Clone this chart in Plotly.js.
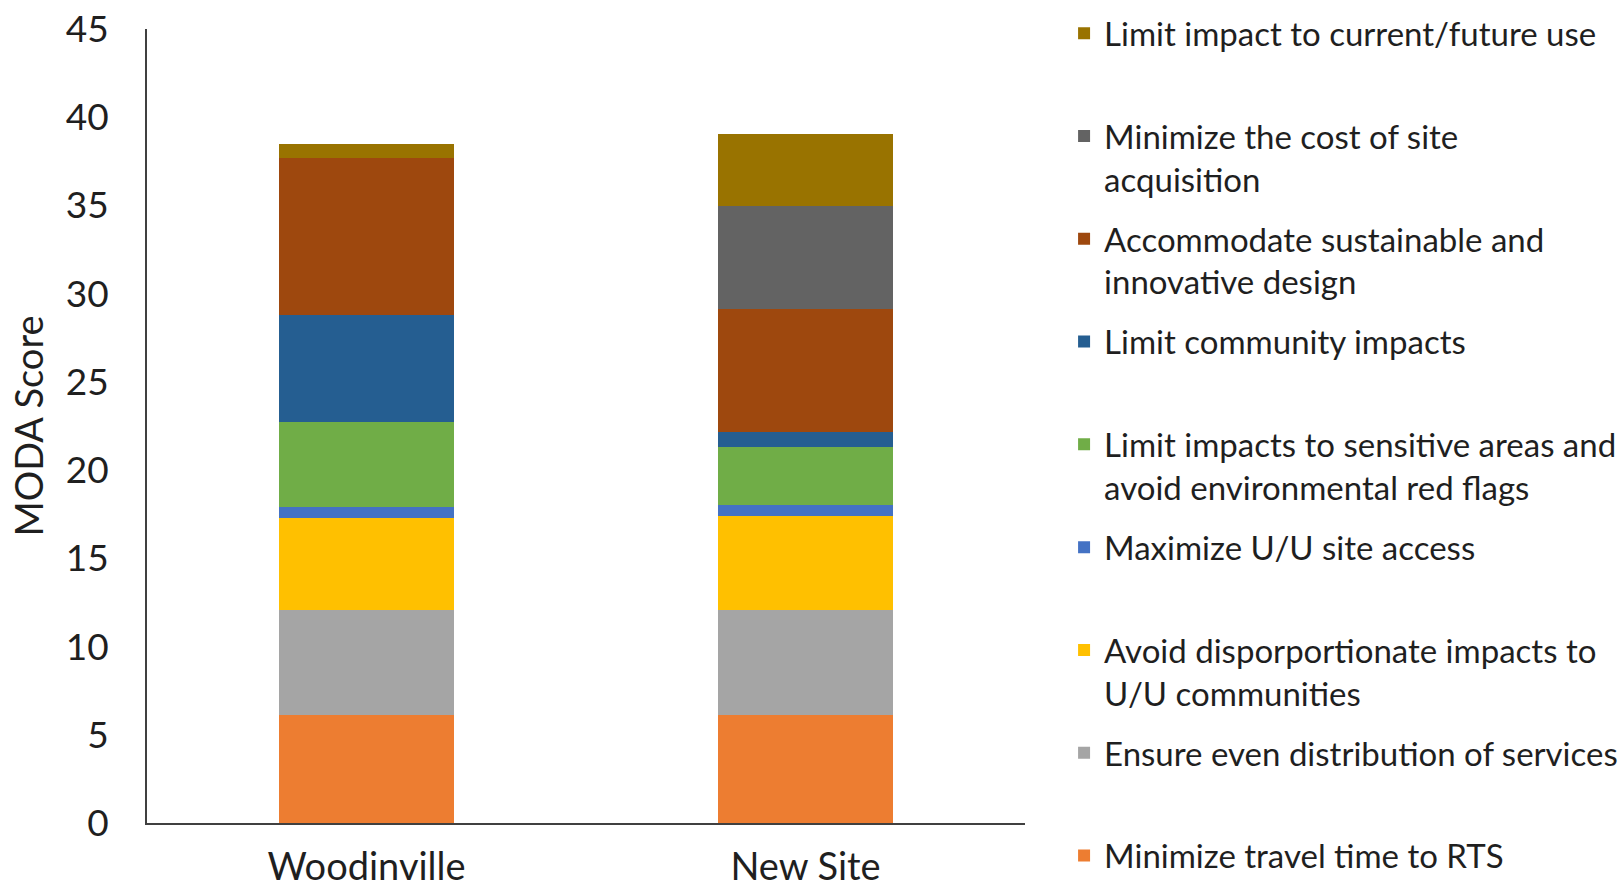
<!DOCTYPE html>
<html>
<head>
<meta charset="utf-8">
<script src="https://cdn.plot.ly/plotly-3.0.1.min.js"></script>
<style>html,body{margin:0;padding:0;background:#fff;} #chart{width:1623px;height:893px;}</style>
</head>
<body>
<div id="chart"></div>
<script>
// Categories (x axis)
const sites = ["Woodinville", "New Site"];

// Series names (bottom of stack first)
const seriesNames = [
  "Minimize travel time to RTS",
  "Ensure even distribution of services",
  "Avoid disporportionate impacts to<br>U/U communities",
  "Maximize U/U site access",
  "Limit impacts to sensitive areas and<br>avoid environmental red flags",
  "Limit community impacts",
  "Accommodate sustainable and<br>innovative design",
  "Minimize the cost of site<br>acquisition",
  "Limit impact to current/future use"
];

// Series values [Woodinville, New Site]
const travelTime      = [6.1, 6.1];
const evenDistrib     = [6.0, 6.0];
const disproportion   = [5.2, 5.3];
const siteAccess      = [0.6, 0.6];
const sensitiveAreas  = [4.85, 3.3];
const communityImpact = [6.05, 0.85];
const sustainable     = [8.9, 7.0];
const siteCost        = [0, 5.8];
const currentUse      = [0.8, 4.1];

const seriesValues = [travelTime, evenDistrib, disproportion, siteAccess,
  sensitiveAreas, communityImpact, sustainable, siteCost, currentUse];

const seriesColors = ["#ED7D31", "#A5A5A5", "#FFC000", "#4472C4",
  "#70AD47", "#255E91", "#9E480E", "#636363", "#997300"];

// Y tick values
const yTicks = [0, 5, 10, 15, 20, 25, 30, 35, 40, 45];

const FONT = "Lato, 'Open Sans', sans-serif";
const TXT = "#1f1f1f";

// legend shows entries top-to-bottom in reverse stacking order; each entry
// takes two text lines (single-line names padded) so spacing is even
const traces = seriesNames.map((name, i) => ({
  type: "bar",
  name: (i === 0 || name.indexOf("<br>") >= 0) ? name : name + "<br>\u00a0",
  x: sites,
  y: seriesValues[i],
  marker: { color: seriesColors[i], line: { width: 0 } },
  legendgroup: "g" + i,
  legendrank: 1000 - i,
  hoverinfo: "x+y+name"
}));

const layout = {
  width: 1623,
  height: 893,
  paper_bgcolor: "#ffffff",
  plot_bgcolor: "#ffffff",
  barmode: "stack",
  bargap: 0.6,
  margin: { l: 147, r: 598, t: 29, b: 70, pad: 0, autoexpand: false },
  font: { family: FONT, color: TXT },
  showlegend: true,
  legend: {
    traceorder: "grouped",
    orientation: "v",
    x: 1.0445,
    xanchor: "left",
    y: 1.03,
    yanchor: "top",
    valign: "top",
    tracegroupgap: 14,
    maxheight: 893,
    font: { family: FONT, size: 33, color: TXT },
    bgcolor: "rgba(0,0,0,0)",
    itemclick: false
  },
  xaxis: {
    type: "category",
    showline: true,
    linecolor: "#404040",
    linewidth: 2,
    showgrid: false,
    zeroline: false,
    ticks: "outside",
    ticklen: 9,
    tickcolor: "rgba(0,0,0,0)",
    tickfont: { family: FONT, size: 38, color: TXT },
    fixedrange: true
  },
  yaxis: {
    range: [0, 45],
    tickvals: yTicks,
    ticktext: yTicks.map(String),
    showline: true,
    linecolor: "#404040",
    linewidth: 2,
    showgrid: false,
    zeroline: false,
    ticks: "outside",
    ticklen: 29,
    tickcolor: "rgba(0,0,0,0)",
    tickfont: { family: FONT, size: 37, color: TXT },
    title: { text: "MODA Score", font: { family: FONT, size: 38, color: TXT }, standoff: 10 },
    fixedrange: true
  }
};

Plotly.newPlot("chart", traces, layout, { displayModeBar: false, staticPlot: true });
</script>
</body>
</html>
